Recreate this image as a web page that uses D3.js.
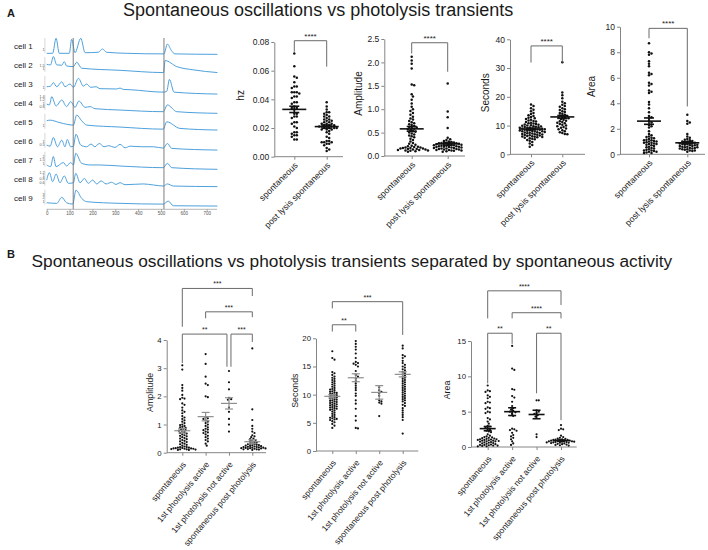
<!DOCTYPE html>
<html><head><meta charset="utf-8">
<script src="https://cdn.jsdelivr.net/npm/d3@7"></script>
<style>body{margin:0;background:#fff} svg{display:block} .cats{opacity:0.995}</style>
</head><body><svg id="c" width="708" height="550"></svg>
<script>
// ---------------- DATA ----------------
const titleA = "Spontaneous oscillations vs photolysis transients";
const titleB = "Spontaneous oscillations vs photolysis transients separated by spontaneous activity";

const cellNames = ["cell 1","cell 2","cell 3","cell 4","cell 5","cell 6","cell 7","cell 8","cell 9"];
const timeTicks = [0,100,200,300,400,500,600,700];
const photolysisTimes = [116, 513];
// [time (s), normalized fluorescence]
const trace1 = [[0,0],[26,0],[41,1.0],[55,0],[99,0],[109,0.93],[124,0.04],[149,1.0],[168,0.04],[226,0.07],[244,0.29],[262,0.07],[350,0],[513,-0.04],[528,0.62],[545,0.2],[561,-0.04],[747,-0.07]];
const trace2 = [[0,0.04],[17,0],[29,0.56],[44,0],[66,-0.02],[77,0.22],[87,-0.07],[117,-0.11],[131,0.18],[153,-0.22],[321,-0.36],[511,-0.51],[518,0.29],[569,-0.11],[642,-0.33],[747,-0.51]];
const trace3 = [[0,0],[17,0.04],[29,0.27],[44,0],[66,0.33],[80,0],[102,0.18],[117,-0.04],[139,0.56],[160,0.04],[175,0.18],[192,-0.04],[216,0],[233,-0.13],[306,-0.15],[321,-0.09],[335,-0.18],[365,-0.2],[510,-0.36],[525,-0.31],[537,0.49],[557,-0.36],[747,-0.49]];
const trace4 = [[0,0.13],[12,0.07],[22,0.62],[41,0],[66,0.4],[87,-0.04],[105,0.29],[124,-0.09],[141,0.33],[168,-0.09],[190,-0.04],[211,-0.18],[321,-0.27],[510,-0.38],[528,0.07],[569,-0.38],[747,-0.49]];
const trace5 = [[0,0],[15,0.04],[58,-0.13],[117,-0.29],[131,0.38],[153,0],[175,-0.29],[321,-0.42],[510,-0.56],[525,-0.07],[583,-0.51],[747,-0.62]];
const trace6 = [[0,0.11],[15,0.04],[29,0.62],[47,0],[66,0.44],[80,0],[90,0.49],[105,0],[117,0.04],[128,0.84],[149,0.11],[175,0],[194,0.18],[211,0],[230,0.22],[251,0],[270,0.07],[299,-0.04],[321,0.16],[343,-0.07],[365,0.04],[416,0],[467,0],[510,-0.09],[528,0.22],[547,-0.11],[747,-0.22]];
const trace7 = [[0,0.11],[17,0],[29,0.67],[41,0],[73,0.27],[87,0.04],[105,0.27],[117,0.11],[127,0.89],[153,0.22],[190,0.11],[233,0.11],[321,0.04],[510,-0.07],[528,0.22],[547,-0.07],[747,-0.18]];
const trace8 = [[0,0.22],[12,0.71],[26,0.11],[41,0.62],[58,0.04],[77,0.49],[95,0],[117,0.04],[127,0.67],[146,0.04],[165,0.33],[182,0],[201,0.22],[219,-0.04],[238,0.16],[260,-0.04],[284,0.07],[303,-0.07],[321,0.04],[343,-0.09],[423,-0.04],[467,-0.11],[510,-0.18],[528,-0.04],[554,-0.18],[747,-0.22]];
const trace9 = [[0,0],[44,-0.04],[66,0.36],[87,0],[114,-0.09],[128,0.84],[153,0.29],[175,0.07],[321,-0.04],[510,-0.09],[532,0.11],[554,-0.2],[747,-0.22]];
const traces = [trace1,trace2,trace3,trace4,trace5,trace6,trace7,trace8,trace9];
const restingLevel = [-0.22,0.27,0.08,0.06,0.34,-0.13,-0.19,-0.04,-0.07];
const rowTickLabels = [["1"],["1","1.5"],["1"],["0.8","1","1.2","1.4"],["1"],["0.5","1"],["1","1.5","2"],["0.6","0.8","1","1.2"],["1","2","3"]];

const topCats = ["spontaneous","post lysis spontaneous"];
const bCats = ["spontaneous","1st photolysis active","1st photolysis not active","spontaneous post photolysis"];

// top panels
const hzTicks = [0,0.02,0.04,0.06,0.08];
const hzSpont = [0.072,0.063,0.056,0.055,0.052,0.049,0.049,0.048,0.045,0.045,0.045,0.044,0.042,0.042,0.041,0.038,0.038,0.037,0.035,0.034,0.034,0.033,0.030,0.030,0.028,0.028,0.027,0.024,0.024,0.023,0.021,0.020,0.017,0.017,0.016,0.015,0.015,0.014,0.012,0.012];
const hzPost = [0.038,0.035,0.033,0.031,0.031,0.030,0.029,0.028,0.028,0.027,0.026,0.026,0.025,0.025,0.024,0.024,0.023,0.023,0.023,0.022,0.022,0.022,0.021,0.021,0.021,0.021,0.020,0.020,0.020,0.020,0.019,0.019,0.019,0.018,0.017,0.016,0.014,0.013,0.011,0.011,0.010,0.010,0.010,0.009,0.009,0.008,0.006,0.005,0.004];
const hzMean = [0.033,0.021];
const hzSem = [0.0022,0.0011];

const ampTicks = [0,0.5,1.0,1.5,2.0,2.5];
const ampSpont = [2.12,2.04,1.97,1.87,1.53,1.51,1.32,1.27,1.20,1.12,1.05,1.00,0.96,0.92,0.88,0.84,0.80,0.78,0.75,0.72,0.70,0.68,0.66,0.64,0.62,0.61,0.60,0.58,0.57,0.55,0.53,0.52,0.50,0.48,0.46,0.44,0.42,0.40,0.37,0.34,0.31,0.28,0.26,0.24,0.22,0.21,0.20,0.19,0.18,0.18,0.17,0.17,0.16,0.16,0.15,0.15,0.14,0.14,0.13,0.13,0.12,0.12,0.11,0.10,0.09];
const ampPost = [1.55,0.95,0.83,0.60,0.39,0.36,0.34,0.32,0.31,0.30,0.29,0.28,0.28,0.27,0.27,0.26,0.26,0.25,0.25,0.24,0.24,0.23,0.23,0.22,0.22,0.21,0.21,0.20,0.20,0.19,0.19,0.18,0.18,0.17,0.17,0.16,0.16,0.15,0.15,0.14,0.14,0.13,0.13,0.12,0.12,0.11,0.10,0.09];
const ampMean = [0.58,0.26];
const ampSem = [0.05,0.03];

const secTicks = [0,10,20,30,40];
const secSpont = [17.3,16.8,16.0,15.5,15.0,14.4,14.0,13.6,13.3,13.0,12.7,12.5,12.3,12.0,11.8,11.6,11.4,11.2,11.0,10.8,10.7,10.5,10.4,10.3,10.1,10.0,9.9,9.8,9.7,9.6,9.5,9.4,9.3,9.2,9.1,9.0,9.0,8.9,8.8,8.7,8.6,8.5,8.5,8.4,8.3,8.2,8.1,8.0,8.0,7.9,7.8,7.7,7.6,7.5,7.4,7.3,7.2,7.1,7.0,6.9,6.8,6.7,6.6,6.5,6.4,6.3,6.2,6.1,6.0,5.9,5.8,5.6,5.4,5.2,5.0,4.7,4.3,3.8,3.2,2.6];
const secPost = [32.0,21.5,20.5,19.5,18.3,17.8,17.2,16.8,16.5,16.0,15.7,15.4,15.0,14.7,14.4,14.1,13.8,13.5,13.3,13.1,12.9,12.7,12.5,12.3,12.0,11.7,11.5,11.2,11.0,10.8,10.5,10.3,10.0,9.8,9.5,9.2,9.0,8.7,8.4,8.0,7.7,7.4,7.1,7.0];
const secMean = [8.8,13.0];
const secSem = [0.3,0.5];

const areaTicks = [0,2,4,6,8,10];
const areaSpont = [8.7,8.0,7.9,7.8,7.3,7.1,6.9,6.4,6.3,6.2,5.6,5.5,5.4,5.0,4.9,4.8,4.1,3.9,3.6,3.3,3.0,2.9,2.8,2.6,2.5,2.3,2.2,2.1,1.8,1.6,1.5,1.4,1.35,1.3,1.25,1.2,1.15,1.1,1.1,1.05,1.0,1.0,0.95,0.9,0.9,0.85,0.8,0.8,0.75,0.7,0.65,0.6,0.55,0.5,0.45,0.4,0.35,0.3,0.3,0.25,0.2,0.2,0.15,0.1,0.1];
const areaPost = [3.1,2.6,2.5,2.4,1.6,1.4,1.3,1.2,1.15,1.1,1.05,1.0,1.0,0.95,0.9,0.9,0.85,0.85,0.8,0.8,0.75,0.75,0.7,0.7,0.65,0.65,0.6,0.6,0.55,0.55,0.5,0.5,0.45,0.45,0.4,0.4,0.35,0.3,0.3,0.25,0.2];
const areaMean = [2.6,0.9];
const areaSem = [0.25,0.08];

// B panels
const bAmpTicks = [0,1,2,3,4];
const bAmpSpont = [3.1,2.95,2.4,2.3,2.2,2.05,1.95,1.92,1.9,1.75,1.7,1.6,1.5,1.45,1.4,1.3,1.25,1.2,1.15,1.1,1.05,1.0,0.98,0.95,0.92,0.9,0.88,0.85,0.82,0.8,0.78,0.75,0.72,0.7,0.68,0.65,0.62,0.6,0.58,0.55,0.52,0.5,0.48,0.45,0.42,0.4,0.38,0.35,0.32,0.3,0.28,0.25,0.22,0.2,0.2,0.18,0.18,0.17,0.16,0.15,0.15,0.14,0.14,0.13,0.12,0.12,0.11,0.1,0.1];
const bAmpActive = [3.5,3.15,2.7,2.45,2.4,2.0,1.97,1.25,1.22,1.2,1.15,1.1,1.05,1.0,0.95,0.9,0.85,0.82,0.8,0.75,0.72,0.7,0.65,0.6,0.55,0.5,0.45,0.4,0.32,0.25];
const bAmpNot = [2.9,2.5,2.25,1.95,1.9,1.88,1.6,1.45,1.2,1.0,0.75];
const bAmpPost = [3.7,1.54,1.16,0.95,0.85,0.75,0.7,0.62,0.58,0.55,0.5,0.48,0.45,0.42,0.4,0.38,0.36,0.34,0.32,0.3,0.3,0.28,0.27,0.26,0.25,0.24,0.23,0.22,0.21,0.2,0.2,0.19,0.18,0.18,0.17,0.16,0.16,0.15,0.15,0.14,0.13,0.12,0.12,0.11,0.1];
const bAmpMean = [0.78,1.28,1.75,0.39];
const bAmpSem = [0.08,0.15,0.2,0.07];

const bSecTicks = [0,5,10,15,20];
const bSecSpont = [17.7,16.5,16.2,14.0,13.8,13.5,13.2,13.0,12.8,12.6,12.4,12.2,12.0,11.8,11.6,11.4,11.2,11.0,10.9,10.8,10.6,10.5,10.4,10.3,10.2,10.1,10.0,9.9,9.8,9.7,9.6,9.5,9.4,9.3,9.2,9.1,9.0,8.9,8.8,8.7,8.6,8.5,8.4,8.3,8.2,8.1,8.0,7.9,7.8,7.7,7.6,7.5,7.4,7.3,7.2,7.0,6.8,6.6,6.4,6.2,6.0,5.9,5.8,5.7,5.6,5.5,5.3,5.1,4.8,4.5,4.1];
const bSecActive = [19.5,19.0,18.5,18.0,17.3,16.5,15.8,15.6,15.5,15.3,15.0,14.2,13.5,13.2,12.8,12.4,12.0,11.6,11.2,10.8,10.2,9.8,9.0,8.4,7.5,6.2,5.4,4.1,4.0];
const bSecNot = [11.3,10.8,10.5,10.2,9.8,9.0,8.8,8.6,8.4,6.2];
const bSecPost = [18.7,18.2,17.0,16.8,16.5,16.0,15.6,15.3,15.0,14.8,14.5,14.3,14.0,13.8,13.6,13.4,13.2,13.0,12.8,12.6,12.4,12.2,12.0,11.8,11.6,11.4,11.2,11.0,10.8,10.6,10.4,10.2,10.0,9.8,9.6,9.4,9.2,9.0,8.8,8.5,8.2,8.0,7.6,7.2,6.8,6.4,6.0,5.5,3.1];
const bSecMean = [9.7,13.0,10.4,13.6];
const bSecSem = [0.3,0.7,1.2,0.45];

const bAreaTicks = [0,5,10,15];
const bAreaSpont = [8.7,8.0,7.9,7.8,7.3,7.1,6.9,6.4,6.3,6.2,5.6,5.5,5.4,5.0,4.9,4.8,4.1,3.9,3.6,3.3,3.0,2.9,2.8,2.6,2.5,2.3,2.2,2.1,1.8,1.6,1.5,1.4,1.35,1.3,1.25,1.2,1.15,1.1,1.1,1.05,1.0,1.0,0.95,0.9,0.9,0.85,0.8,0.8,0.75,0.7,0.65,0.6,0.55,0.5,0.45,0.4,0.35,0.3,0.3,0.25,0.2,0.2,0.15,0.1,0.1];
const bAreaActive = [14.3,11.1,10.9,8.2,8.1,7.2,7.0,6.4,5.8,5.5,5.3,5.1,5.0,4.9,4.7,4.4,2.6,2.5,2.4,2.3,2.0,1.7,1.5,1.3,1.1,0.8,0.5,0.3];
const bAreaNot = [6.6,6.6,5.2,5.0,4.8,4.7,4.5,4.3,1.8,1.4];
const bAreaPost = [3.1,2.6,2.5,2.4,1.6,1.4,1.3,1.2,1.15,1.1,1.05,1.0,1.0,0.95,0.9,0.9,0.85,0.85,0.8,0.8,0.75,0.75,0.7,0.7,0.65,0.65,0.6,0.6,0.55,0.5,0.45,0.4,0.35,0.3,0.25,0.2];
const bAreaMean = [2.6,5.0,4.6,0.9];
const bAreaSem = [0.3,0.55,0.6,0.1];

// significance brackets: [cat i, cat j, level, left leg end, right leg end, label] (data units)
const hzBrackets = [[0,1,0.0809,0.0732,0.0628,"****"]];
const ampBrackets = [[0,1,2.42,2.19,1.80,"****"]];
const secBrackets = [[0,1,37.7,31.9,31.9,"****"]];
const areaBrackets = [[0,1,9.87,9.09,3.75,"****"]];
const bAmpBrackets = [[0,3,5.83,4.47,5.56,"***"],[1,3,5.0,4.77,4.81,"***"],[0,2,4.21,3.18,3.05,"**"],[2,3,4.21,3.05,3.93,"***"]];
const bSecBrackets = [[0,3,26.5,25.3,20.6,"***"],[0,1,22.4,21.2,21.2,"**"]];
const bAreaBrackets = [[0,3,22.1,18.2,20.1,"****"],[1,3,19.0,18.2,18.2,"****"],[0,1,16.1,9.0,14.6,"**"],[2,3,16.1,7.6,3.8,"**"]];

// ---------------- DRAWING ----------------
const FONT = 'Arial, "Liberation Sans", sans-serif';
const AX = "#858585", TXT = "#1a1a1a";
const svg = d3.select("#c");

svg.append("text").attr("x",7).attr("y",16.5).attr("font-family",FONT).attr("font-weight","bold").attr("font-size",11).attr("fill",TXT).text("A");
svg.append("text").attr("x",123).attr("y",15.5).attr("font-family",FONT).attr("font-size",18).attr("fill",TXT).text(titleA);
svg.append("text").attr("x",7).attr("y",258).attr("font-family",FONT).attr("font-weight","bold").attr("font-size",11).attr("fill",TXT).text("B");
svg.append("text").attr("x",31.5).attr("y",266.5).attr("font-family",FONT).attr("font-size",17.3).attr("fill",TXT).text(titleB);

// ---- traces ----
const tx = d3.scaleLinear().domain([0,700]).range([46.7,206.7]);
const rowY = d3.scalePoint().domain(cellNames).range([49,200.7]);
const ry = d3.scaleLinear().domain([0,1]).range([0,-15]);
const gt = svg.append("g");
const axisY = 209.3;
cellNames.forEach((c,i)=>{
  const base = rowY(c)+1;
  gt.append("text").attr("x",14).attr("y",rowY(c)).attr("font-family",FONT).attr("font-size",8).attr("fill",TXT).text(c);
  gt.append("line").attr("x1",tx(-8)).attr("x2",tx(-8)).attr("y1",base+3).attr("y2",base-12).attr("stroke","#b0b0b0").attr("stroke-width",0.5);
  rowTickLabels[i].forEach((lab,k)=>{
    gt.append("text").attr("x",tx(-10)).attr("y",base+1-k*3.3).attr("text-anchor","end").attr("font-family",FONT).attr("font-size",3.6).attr("fill","#555").text(lab);
  });
  const line = d3.line().x(d=>tx(d[0])).y(d=>base+ry(d[1]+restingLevel[i])).curve(d3.curveMonotoneX);
  gt.append("path").attr("d",line(traces[i])).attr("fill","none").attr("stroke","#4ea1dc").attr("stroke-width",1);
});
photolysisTimes.forEach(t=>{
  gt.append("line").attr("x1",tx(t)).attr("x2",tx(t)).attr("y1",38).attr("y2",axisY).attr("stroke","#6e6e6e").attr("stroke-width",0.9);
});
const txa = gt.append("g").attr("transform",`translate(0,${axisY})`).call(d3.axisBottom(tx).tickValues(timeTicks).tickSize(1.5).tickPadding(1).tickSizeOuter(0));
txa.select(".domain").remove();
gt.append("line").attr("x1",tx(0)).attr("x2",tx(745)).attr("y1",axisY).attr("y2",axisY).attr("stroke","#999").attr("stroke-width",0.7);
txa.selectAll(".tick line").attr("stroke","#999");
txa.selectAll(".tick text").attr("font-size",4.5).attr("font-family",FONT).attr("fill","#555");

// ---- scatter panels ----
function swarm(vals, y, gap){
  const d = gap, s = d/2;
  const pts = vals.map(v=>({v, y:y(v), dx:0})).sort((a,b)=>a.y-b.y);
  const placed = [];
  for (const p of pts){
    for (let k=0;k<400;k++){
      const off = k===0 ? 0 : (k%2 ? 1 : -1)*Math.ceil(k/2)*s;
      let ok = true;
      for (const q of placed){
        const dy = q.y-p.y;
        if (Math.abs(dy) < d){ const dx=q.dx-off; if (dx*dx+dy*dy < d*d){ok=false;break;} }
      }
      if (ok){p.dx=off;break;}
    }
    placed.push(p);
  }
  return pts;
}

function drawPanel(p){
  const y = d3.scaleLinear().domain([p.ticks[0], p.ticks[p.ticks.length-1]]).range([p.yBot, p.yTop]);
  const x = d3.scalePoint().domain(p.cats).range(p.catRange);
  const g = svg.append("g");
  const ya = g.append("g").attr("transform",`translate(${p.axisX},0)`)
    .call(d3.axisLeft(y).tickValues(p.ticks).tickFormat(d3.format(p.fmt)).tickSize(3).tickPadding(2).tickSizeOuter(0));
  ya.select(".domain").attr("stroke",AX);
  ya.selectAll(".tick line").attr("stroke",AX);
  ya.selectAll(".tick text").attr("fill",TXT).attr("font-size",p.tickFont).attr("font-family",FONT);
  g.append("line").attr("x1",p.axisX).attr("x2",p.axisEnd).attr("y1",p.yBot).attr("y2",p.yBot).attr("stroke",AX);
  const xa = g.append("g").attr("transform",`translate(0,${p.yBot})`).call(d3.axisBottom(x).tickSize(3).tickFormat(""));
  xa.select(".domain").remove();
  xa.selectAll(".tick line").attr("stroke",AX);
  g.append("g").attr("class","cats").selectAll("text").data(p.cats).join("text")
    .attr("transform",c=>`translate(${x(c)+2},${p.yBot+p.catPad}) rotate(${p.catAngle})`)
    .attr("text-anchor","end").attr("dy","0.35em").attr("font-family",FONT).attr("font-size",p.catFont).attr("fill","#222").text(c=>c);
  p.series.forEach((vals,i)=>{
    const cx = x(p.cats[i]);
    g.append("g").selectAll("circle").data(swarm(vals,y,p.gap)).join("circle")
      .attr("cx",d=>cx+d.dx).attr("cy",d=>d.y).attr("r",p.r).attr("fill","#111");
  });
  p.means.forEach((m,i)=>{
    const cx = x(p.cats[i]), s = p.sems[i];
    const gm = g.append("g").attr("stroke",p.meanColor).attr("stroke-width",p.meanWidth);
    gm.append("line").attr("x1",cx-p.mw).attr("x2",cx+p.mw).attr("y1",y(m)).attr("y2",y(m));
    gm.append("line").attr("x1",cx).attr("x2",cx).attr("y1",y(m-s)).attr("y2",y(m+s));
    [m-s,m+s].forEach(v=>gm.append("line").attr("x1",cx-p.cw).attr("x2",cx+p.cw).attr("y1",y(v)).attr("y2",y(v)));
  });
  p.brackets.forEach(b=>{
    let xl = x(p.cats[b[0]]), xr = x(p.cats[b[1]]);
    p.brackets.forEach(o=>{
      if (o===b || o[2]!==b[2]) return;
      if (o[1]===b[0]) xl += 2;
      if (o[0]===b[1]) xr -= 2;
    });
    const yl = y(b[2]);
    g.append("path").attr("d",`M${xl},${y(b[3])}V${yl}H${xr}V${y(b[4])}`).attr("fill","none").attr("stroke","#6a6a6a").attr("stroke-width",1);
    g.append("text").attr("x",(xl+xr)/2).attr("y",yl-2).attr("text-anchor","middle").attr("font-family",FONT).attr("font-size",p.starFont).attr("fill",TXT).text(b[5]);
  });
  const cy = (p.yTop+p.yBot)/2 - 4;
  g.append("text").attr("transform",`translate(${p.labelX},${cy}) rotate(-90)`).attr("dy","0.35em").attr("text-anchor","middle")
    .attr("font-family",FONT).attr("font-size",p.labelFont).attr("fill",TXT).text(p.label);
}

const topStyle = {cats:topCats, tickFont:8.5, catFont:8.8, catAngle:-45, catPad:7, labelFont:10, starFont:8, r:1.25, gap:2.5, mw:12, cw:5, meanColor:"#111", meanWidth:1.6};
const bStyle = {cats:bCats, tickFont:7.8, catFont:8.5, catAngle:-50, catPad:10, labelFont:8.8, starFont:7, r:1.1, gap:2.2, mw:8, cw:4};

drawPanel({...topStyle, label:"hz", labelX:240, axisX:274.3, axisEnd:343, catRange:[294.3,326.7], yTop:42, yBot:156.7, ticks:hzTicks, fmt:".2f", series:[hzSpont,hzPost], means:hzMean, sems:hzSem, brackets:hzBrackets});
drawPanel({...topStyle, label:"Amplitude", labelX:358.3, axisX:384.3, axisEnd:465, catRange:[411.7,447.7], yTop:39, yBot:156, ticks:ampTicks, fmt:".1f", series:[ampSpont,ampPost], means:ampMean, sems:ampSem, brackets:ampBrackets});
drawPanel({...topStyle, label:"Seconds", labelX:485, axisX:510, axisEnd:585, catRange:[531,562.3], yTop:39.3, yBot:154.3, ticks:secTicks, fmt:"d", series:[secSpont,secPost], means:secMean, sems:secSem, brackets:secBrackets});
drawPanel({...topStyle, label:"Area", labelX:591.7, axisX:620, axisEnd:705, catRange:[649,687.3], yTop:26.7, yBot:154.3, ticks:areaTicks, fmt:"d", series:[areaSpont,areaPost], means:areaMean, sems:areaSem, brackets:areaBrackets});

drawPanel({...bStyle, meanColor:"#8e8e8e", meanWidth:1.2, label:"Amplitude", labelX:150, axisX:166.7, axisEnd:266, catRange:[182.3,252.3], yTop:340, yBot:452.7, ticks:bAmpTicks, fmt:"d", series:[bAmpSpont,bAmpActive,bAmpNot,bAmpPost], means:bAmpMean, sems:bAmpSem, brackets:bAmpBrackets});
drawPanel({...bStyle, meanColor:"#8e8e8e", meanWidth:1.2, label:"Seconds", labelX:295, axisX:316, axisEnd:418.3, catRange:[332.3,402.7], yTop:338.3, yBot:451, ticks:bSecTicks, fmt:"d", series:[bSecSpont,bSecActive,bSecNot,bSecPost], means:bSecMean, sems:bSecSem, brackets:bSecBrackets});
drawPanel({...bStyle, meanColor:"#111", meanWidth:1.6, label:"Area", labelX:447.3, axisX:471, axisEnd:576.7, catRange:[487.7,561], yTop:341, yBot:447, ticks:bAreaTicks, fmt:"d", series:[bAreaSpont,bAreaActive,bAreaNot,bAreaPost], means:bAreaMean, sems:bAreaSem, brackets:bAreaBrackets});
</script></body></html>
